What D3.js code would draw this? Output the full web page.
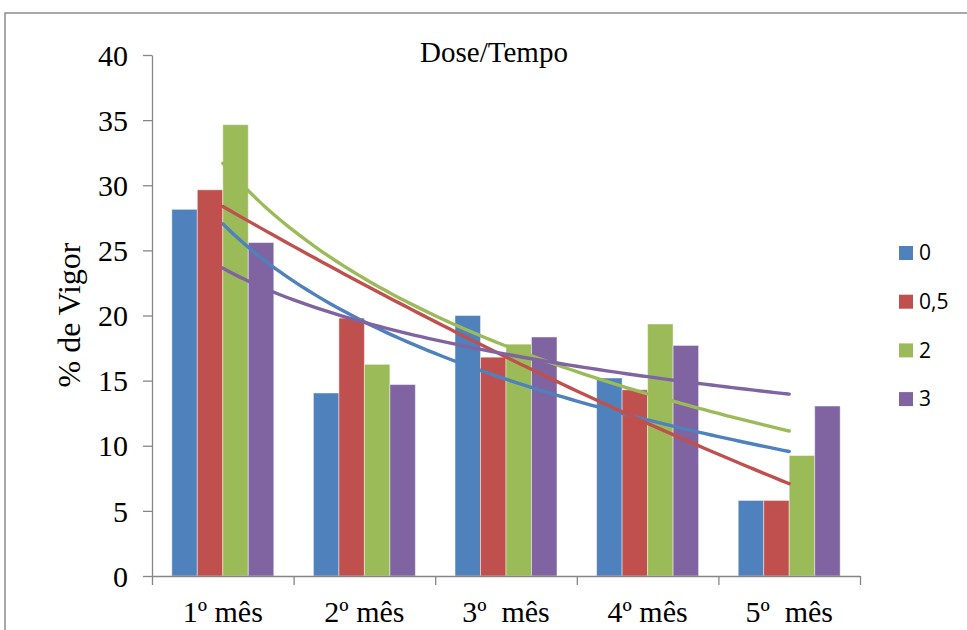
<!DOCTYPE html>
<html>
<head>
<meta charset="utf-8">
<script src="https://cdn.jsdelivr.net/npm/d3@7"></script>
<style>
  body { margin: 0; background: #fff; }
  svg { display: block; }
  .serif { font-family: "Liberation Serif", "Times New Roman", serif; fill: #000; }
  .axis path, .axis line { stroke: #868686; stroke-width: 1.3; }
  .axis text { font-family: "Liberation Serif", "Times New Roman", serif; fill: #000; }
</style>
</head>
<body>
<svg width="967" height="630"></svg>
<script>
var months = ['1º mês', '2º mês', '3º  mês', '4º mês', '5º  mês'];
var doses = ['0', '0,5', '2', '3'];
var colors = ['#4F81BD', '#C0504D', '#9BBB59', '#8064A2'];
// % de vigor por dose, um valor por mês
var dose0 = [28.15, 14.05, 20.0, 15.2, 5.8];
var dose05 = [29.65, 19.8, 16.8, 14.3, 5.8];
var dose2 = [34.65, 16.25, 17.8, 19.35, 9.25];
var dose3 = [25.6, 14.7, 18.35, 17.7, 13.05];
var trendType = ['log', 'poly2', 'log', 'log'];
var yTicks = [0, 5, 10, 15, 20, 25, 30, 35, 40];

var series = [dose0, dose05, dose2, dose3];

var svg = d3.select('svg');
var plotL = 152, plotR = 860, plotT = 55, plotB = 576;

// moldura do gráfico
svg.append('rect')
  .attr('x', 5).attr('y', 13)
  .attr('width', 1100).attr('height', 800)
  .attr('fill', 'none')
  .attr('stroke', '#8a8a8a')
  .attr('stroke-width', 1.5);

var x0 = d3.scaleBand()
           .domain(months)
           .range([plotL, plotR])
           .paddingInner(0.28)
           .paddingOuter(0.14);
var x1 = d3.scaleBand()
           .domain(doses)
           .range([0, x0.bandwidth()]);
var y = d3.scaleLinear()
          .domain([0, 40])
          .range([plotB, plotT]);

// barras
svg.append('g')
  .selectAll('g')
  .data(months)
  .enter()
  .append('g')
    .attr('transform', m => 'translate(' + x0(m) + ',0)')
  .selectAll('rect')
  .data((m, i) => series.map((s, k) => ({dose: doses[k], v: s[i], c: colors[k]})))
  .enter()
  .append('rect')
    .attr('x', d => x1(d.dose))
    .attr('width', x1.bandwidth())
    .attr('y', d => y(d.v))
    .attr('height', d => plotB - y(d.v))
    .attr('fill', d => d.c)
    .attr('stroke', '#fff')
    .attr('stroke-opacity', 0.45)
    .attr('stroke-width', 1);

// linhas de tendência (mínimos quadrados, como no Excel)
function fitLog(ys) {
  var xs = ys.map((v, i) => Math.log(i + 1));
  var mx = d3.mean(xs), my = d3.mean(ys);
  var sxy = d3.sum(xs, (xv, i) => (xv - mx) * (ys[i] - my));
  var sxx = d3.sum(xs, xv => (xv - mx) * (xv - mx));
  var b = sxy / sxx, a = my - b * mx;
  return t => a + b * Math.log(t);
}
function fitPoly2(ys) {
  // polinômios ortogonais para x = 1..5
  var xc = ys.map((v, i) => i + 1 - 3);
  var my = d3.mean(ys);
  var b1 = d3.sum(xc, (c, i) => c * ys[i]) / d3.sum(xc, c => c * c);
  var p2 = xc.map(c => c * c - 2);
  var b2 = d3.sum(p2, (p, i) => p * ys[i]) / d3.sum(p2, p => p * p);
  return t => my + b1 * (t - 3) + b2 * ((t - 3) * (t - 3) - 2);
}

var xt = d3.scaleLinear()
           .domain([1, months.length])
           .range([x0(months[0]) + x0.bandwidth() / 2,
                   x0(months[months.length - 1]) + x0.bandwidth() / 2]);
var steps = d3.range(1, 5.0001, 0.05);

series.forEach((s, k) => {
  var f = trendType[k] === 'log' ? fitLog(s) : fitPoly2(s);
  var line = d3.line()
               .x(t => xt(t))
               .y(t => y(f(t)))
               .curve(d3.curveMonotoneX);
  svg.append('path')
    .datum(steps)
      .attr('d', line)
      .attr('fill', 'none')
      .attr('stroke', colors[k])
      .attr('stroke-width', 3.4)
      .attr('stroke-linecap', 'round');
});

// eixos
var yAxis = d3.axisLeft(y)
              .tickValues(yTicks)
              .tickSize(9)
              .tickSizeOuter(0)
              .tickPadding(15);
svg.append('g')
  .attr('class', 'axis')
  .attr('transform', 'translate(' + plotL + ',0)')
  .call(yAxis)
  .selectAll('text')
    .style('font-size', '30px')
    .attr('dy', '0.34em');

var xb = d3.scaleLinear().domain([0, months.length]).range([plotL, plotR]);
svg.append('g')
  .attr('class', 'axis')
  .attr('transform', 'translate(0,' + plotB + ')')
  .call(d3.axisBottom(xb).ticks(months.length).tickSize(9).tickSizeOuter(0).tickFormat(''));

svg.append('g')
  .selectAll('text')
  .data(months)
  .enter()
  .append('text')
    .attr('class', 'serif')
    .attr('x', m => x0(m) + x0.bandwidth() / 2)
    .attr('y', 622)
    .attr('text-anchor', 'middle')
    .style('font-size', '30px')
    .style('white-space', 'pre')
    .text(m => m);

// títulos
svg.append('text')
  .attr('class', 'serif')
  .attr('x', 494).attr('y', 62)
  .attr('text-anchor', 'middle')
  .style('font-size', '29px')
  .text('Dose/Tempo');

svg.append('text')
  .attr('class', 'serif')
  .attr('transform', 'translate(80,315) rotate(-90)')
  .attr('text-anchor', 'middle')
  .style('font-size', '32px')
  .text('% de Vigor');

// legenda
var legend = svg.append('g')
  .selectAll('g')
  .data(doses)
  .enter()
  .append('g')
    .attr('transform', (d, i) => 'translate(899,' + (253 + i * 48.7) + ')');
legend.append('rect')
  .attr('x', 0).attr('y', -7)
  .attr('width', 14).attr('height', 14)
  .attr('fill', (d, i) => colors[i]);
legend.append('text')
  .attr('x', 20).attr('y', 0)
  .attr('dy', '0.35em')
  .style('font-family', '"Open Sans", "Liberation Sans", sans-serif')
  .style('font-size', '21px')
  .text(d => d);
</script>
</body>
</html>
